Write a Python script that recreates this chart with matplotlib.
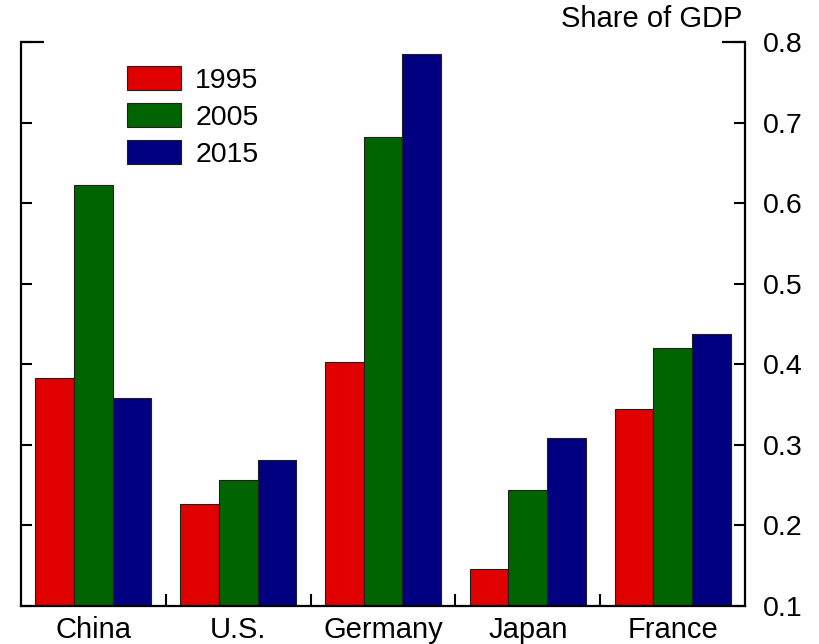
import matplotlib
matplotlib.use("Agg")
import matplotlib.pyplot as plt
import numpy as np
from matplotlib.lines import Line2D

countries = ["China", "U.S.", "Germany", "Japan", "France"]
years = ["1995", "2005", "2015"]
v1995 = [0.383, 0.226, 0.403, 0.146, 0.344]
v2005 = [0.622, 0.256, 0.682, 0.244, 0.420]
v2015 = [0.358, 0.281, 0.785, 0.308, 0.438]
yticks = [0.1, 0.2, 0.3, 0.4, 0.5, 0.6, 0.7, 0.8]
ylabel = "Share of GDP"

colors = ["#E00000", "#006400", "#000080"]

plt.rcParams['font.family'] = ['Liberation Sans', 'DejaVu Sans']

W, H = 820, 644
fig = plt.figure(figsize=(W / 100, H / 100), dpi=100)
ax = fig.add_axes([21 / W, 1 - 606 / H, (745 - 21) / W, (606 - 42) / H])

x = np.arange(len(countries))
bw = 0.8 / 3
series = [v1995, v2005, v2015]
for i, (vals, c, lab) in enumerate(zip(series, colors, years)):
    ax.bar(x + (i - 1) * bw, np.array(vals) - 0.1, bw, bottom=0.1, color=c,
           edgecolor="#202020", linewidth=0.8, label=lab)

ax.set_xlim(-0.5, len(countries) - 0.5)
ax.set_ylim(0.1, 0.8)

# spines
ax.spines['top'].set_visible(False)
for s in ['left', 'right', 'bottom']:
    ax.spines[s].set_linewidth(1.6)

# y ticks
ax.set_yticks(yticks)
ax.set_yticklabels([f"{t:.1f}" for t in yticks])
ax.tick_params(axis='y', which='major', direction='in', length=8, width=1.5,
               left=True, right=True, labelleft=False, labelright=True,
               labelsize=20.5, pad=13)

# x ticks: separators major, labels minor
ax.set_xticks(np.arange(0.5, len(countries) - 0.5, 1.0))
ax.set_xticklabels([])
ax.set_xticks(x, minor=True)
ax.set_xticklabels(countries, minor=True)
ax.tick_params(axis='x', which='major', direction='in', length=9, width=1.5)
ax.tick_params(axis='x', which='minor', length=0, labelsize=21, pad=7.5)

# longer top corner marks
for xs in [(0, 23 / 724), (1 - 23 / 724, 1)]:
    ax.add_line(Line2D(xs, [1, 1], transform=ax.transAxes, color='black',
                       linewidth=1.6, clip_on=False, solid_capstyle='butt'))

fig.text(742 / W, 1 - 27 / H, ylabel, ha='right', va='baseline', fontsize=21)

leg = ax.legend(loc='upper left', bbox_to_anchor=(127 / W, 1 - 66 / H),
                bbox_transform=fig.transFigure, frameon=False, fontsize=20.5,
                handlelength=1.9, handleheight=0.9, handletextpad=0.5,
                labelspacing=0.33, borderpad=0, borderaxespad=0)

fig.savefig("out.png", dpi=100, facecolor='white')
